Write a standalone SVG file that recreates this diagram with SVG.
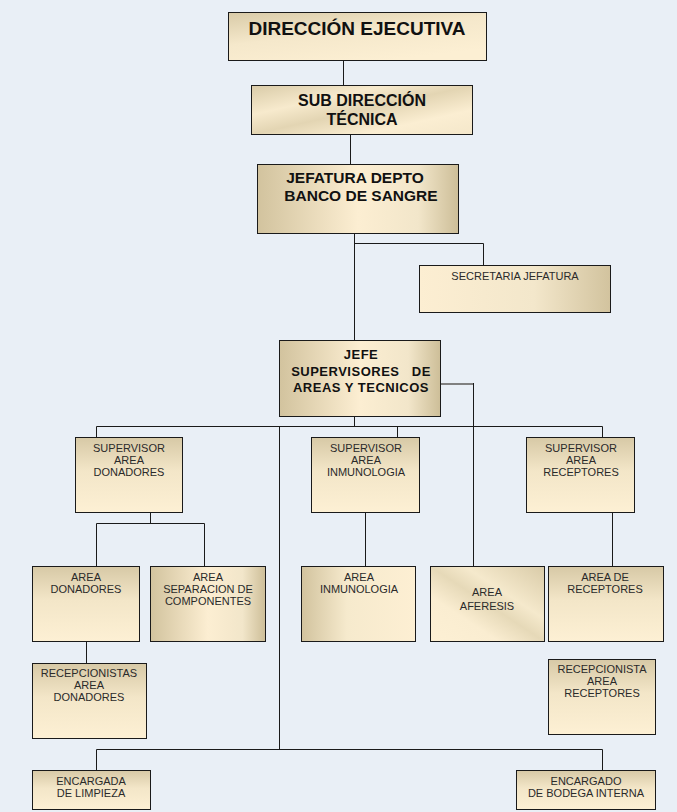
<svg xmlns="http://www.w3.org/2000/svg" width="677" height="812" viewBox="0 0 677 812">
<style>
  .bx { stroke: #1a1a1a; stroke-width: 1; }
  .ln { fill: none; stroke: #1a1a1a; stroke-width: 1; }
  .lg { fill: none; stroke: #808080; stroke-width: 2; }
  .t { font-family: "Liberation Sans", Arial, sans-serif; font-size: 11px; fill: #2a2a2a; text-anchor: middle; }
  .tb { font-family: "Liberation Sans", Arial, sans-serif; font-weight: bold; fill: #111; text-anchor: middle; }
</style>
<defs>
  <linearGradient id="gV" x1="0" y1="0" x2="0" y2="1">
    <stop offset="0" stop-color="#D7C9A6"/>
    <stop offset="0.45" stop-color="#F3E6C8"/>
    <stop offset="1" stop-color="#FDF0D4"/>
  </linearGradient>
  <linearGradient id="gH" x1="0" y1="0" x2="1" y2="0">
    <stop offset="0" stop-color="#D2C39E"/>
    <stop offset="0.5" stop-color="#FCEED2"/>
    <stop offset="0.8" stop-color="#F2E6CA"/>
    <stop offset="1" stop-color="#CDBE98"/>
  </linearGradient>
  <linearGradient id="gHR" x1="0" y1="0" x2="1" y2="0">
    <stop offset="0" stop-color="#FCEED2"/>
    <stop offset="0.6" stop-color="#F3E7CB"/>
    <stop offset="1" stop-color="#D2C39E"/>
  </linearGradient>
  <linearGradient id="gHL" x1="0" y1="0" x2="1" y2="0">
    <stop offset="0" stop-color="#D2C39E"/>
    <stop offset="0.4" stop-color="#F6EACD"/>
    <stop offset="1" stop-color="#FDEFD3"/>
  </linearGradient>
  <linearGradient id="gD" x1="0" y1="0" x2="1" y2="1">
    <stop offset="0" stop-color="#D9CBA8"/>
    <stop offset="0.3" stop-color="#F7EACD"/>
    <stop offset="0.5" stop-color="#E3D5B3"/>
    <stop offset="0.75" stop-color="#FBEED2"/>
    <stop offset="1" stop-color="#F4E7CA"/>
  </linearGradient>
  <linearGradient id="gD2" x1="1" y1="0" x2="0" y2="1">
    <stop offset="0" stop-color="#D9CBA8"/>
    <stop offset="0.35" stop-color="#F5E9CC"/>
    <stop offset="0.5" stop-color="#E6D9B8"/>
    <stop offset="0.7" stop-color="#FAEDD1"/>
    <stop offset="1" stop-color="#FDF0D4"/>
  </linearGradient>
  <linearGradient id="gT" x1="0" y1="0" x2="0.6" y2="1">
    <stop offset="0" stop-color="#D9CBA8"/>
    <stop offset="0.5" stop-color="#F5E8CB"/>
    <stop offset="1" stop-color="#FCEFD3"/>
  </linearGradient>
</defs>
<rect x="0" y="0" width="677" height="812" fill="#E9EFF6"/>

<g id="connectors">
  <path class="ln" d="M343.5,60.5 V85.5"/>
  <path class="ln" d="M350.5,134.5 V164.5"/>
  <path class="ln" d="M354.5,233.5 V340.5"/>
  <path class="ln" d="M354.5,243.5 H483.5 V265.5"/>
  <path class="ln" d="M354.5,416.5 V426.5"/>
  <path class="ln" d="M96.5,426.5 H602.5"/>
  <path class="ln" d="M96.5,426.5 V437.5"/>
  <path class="ln" d="M279.5,426.5 V749.5"/>
  <path class="ln" d="M397.5,426.5 V437.5"/>
  <path class="ln" d="M602.5,426.5 V437.5"/>
  <path class="lg" d="M441,384 H473.5"/>
  <path class="ln" d="M473.5,383 V566.5"/>
  <path class="ln" d="M150.5,512.5 V523.5"/>
  <path class="ln" d="M96.5,523.5 H204.5"/>
  <path class="ln" d="M96.5,523.5 V566.5"/>
  <path class="ln" d="M204.5,523.5 V566.5"/>
  <path class="ln" d="M86.5,641.5 V663.5"/>
  <path class="ln" d="M365.5,512.5 V566.5"/>
  <path class="ln" d="M612.5,512.5 V566.5"/>
  <path class="ln" d="M96.5,749.5 H602.5"/>
  <path class="ln" d="M96.5,749.5 V770.5"/>
  <path class="ln" d="M602.5,749.5 V770.5"/>
</g>

<g id="direccion-ejecutiva">
  <rect class="bx" x="228.5" y="12.5" width="258" height="48" fill="url(#gT)"/>
  <text class="tb" x="357" y="35" font-size="19">DIRECCIÓN EJECUTIVA</text>
</g>
<g id="sub-direccion">
  <rect class="bx" x="251.5" y="85.5" width="221" height="49" fill="url(#gD)"/>
  <text class="tb" x="362" y="106" font-size="16">SUB DIRECCIÓN</text>
  <text class="tb" x="362" y="125" font-size="16">TÉCNICA</text>
</g>
<g id="jefatura">
  <rect class="bx" x="257.5" y="164.5" width="201" height="69" fill="url(#gH)"/>
  <text class="tb" x="355" y="183" font-size="15.5">JEFATURA DEPTO</text>
  <text class="tb" x="361" y="201" font-size="15.5">BANCO DE SANGRE</text>
</g>
<g id="secretaria">
  <rect class="bx" x="419.5" y="265.5" width="191" height="47" fill="url(#gHR)"/>
  <text class="t" x="515" y="280">SECRETARIA JEFATURA</text>
</g>
<g id="jefe-supervisores">
  <rect class="bx" x="279.5" y="340.5" width="161" height="76" fill="url(#gH)"/>
  <text class="tb" x="361" y="359" font-size="13" letter-spacing="0.5">JEFE</text>
  <text class="tb" x="361" y="375.5" font-size="13" letter-spacing="0.5" xml:space="preserve">SUPERVISORES   DE</text>
  <text class="tb" x="361" y="391.5" font-size="13" letter-spacing="0.5">AREAS Y TECNICOS</text>
</g>
<g id="sup-donadores">
  <rect class="bx" x="75.5" y="437.5" width="107" height="75" fill="url(#gV)"/>
  <text class="t" x="129" y="452">SUPERVISOR</text>
  <text class="t" x="129" y="464">AREA</text>
  <text class="t" x="129" y="476">DONADORES</text>
</g>
<g id="sup-inmunologia">
  <rect class="bx" x="311.5" y="437.5" width="108" height="75" fill="url(#gV)"/>
  <text class="t" x="366" y="452">SUPERVISOR</text>
  <text class="t" x="366" y="464">AREA</text>
  <text class="t" x="366" y="476">INMUNOLOGIA</text>
</g>
<g id="sup-receptores">
  <rect class="bx" x="526.5" y="437.5" width="108" height="75" fill="url(#gV)"/>
  <text class="t" x="581" y="452">SUPERVISOR</text>
  <text class="t" x="581" y="464">AREA</text>
  <text class="t" x="581" y="476">RECEPTORES</text>
</g>
<g id="area-donadores">
  <rect class="bx" x="32.5" y="566.5" width="107" height="75" fill="url(#gV)"/>
  <text class="t" x="86" y="581">AREA</text>
  <text class="t" x="86" y="593">DONADORES</text>
</g>
<g id="area-separacion">
  <rect class="bx" x="150.5" y="566.5" width="115" height="75" fill="url(#gH)"/>
  <text class="t" x="208" y="581">AREA</text>
  <text class="t" x="208" y="593">SEPARACION DE</text>
  <text class="t" x="208" y="605">COMPONENTES</text>
</g>
<g id="area-inmunologia">
  <rect class="bx" x="301.5" y="566.5" width="114" height="75" fill="url(#gHL)"/>
  <text class="t" x="359" y="581">AREA</text>
  <text class="t" x="359" y="593">INMUNOLOGIA</text>
</g>
<g id="area-aferesis">
  <rect class="bx" x="430.5" y="566.5" width="114" height="75" fill="url(#gD2)"/>
  <text class="t" x="487" y="596" font-size="12">AREA</text>
  <text class="t" x="487" y="610" font-size="12">AFERESIS</text>
</g>
<g id="area-receptores">
  <rect class="bx" x="548.5" y="566.5" width="115" height="75" fill="url(#gV)"/>
  <text class="t" x="605" y="581">AREA DE</text>
  <text class="t" x="605" y="593">RECEPTORES</text>
</g>
<g id="recepcionistas-donadores">
  <rect class="bx" x="32.5" y="663.5" width="114" height="75" fill="url(#gV)"/>
  <text class="t" x="89" y="677">RECEPCIONISTAS</text>
  <text class="t" x="89" y="689">AREA</text>
  <text class="t" x="89" y="701">DONADORES</text>
</g>
<g id="recepcionista-receptores">
  <rect class="bx" x="548.5" y="659.5" width="107" height="75" fill="url(#gV)"/>
  <text class="t" x="602" y="673">RECEPCIONISTA</text>
  <text class="t" x="602" y="685">AREA</text>
  <text class="t" x="602" y="697">RECEPTORES</text>
</g>
<g id="encargada-limpieza">
  <rect class="bx" x="32.5" y="770.5" width="118" height="39" fill="url(#gV)"/>
  <text class="t" x="91" y="785">ENCARGADA</text>
  <text class="t" x="91" y="797">DE LIMPIEZA</text>
</g>
<g id="encargado-bodega">
  <rect class="bx" x="516.5" y="770.5" width="139" height="39" fill="url(#gV)"/>
  <text class="t" x="586" y="785">ENCARGADO</text>
  <text class="t" x="586" y="797">DE BODEGA INTERNA</text>
</g>
</svg>
